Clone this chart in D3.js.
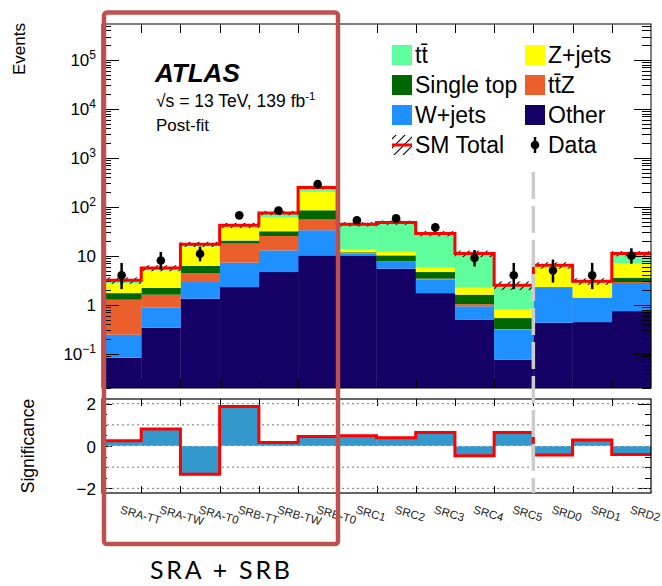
<!DOCTYPE html>
<html>
<head>
<meta charset="utf-8">
<script src="https://cdn.jsdelivr.net/npm/d3@7"></script>
<style>
  body { margin: 0; background: #fff; }
  svg { display: block; font-family: "Liberation Sans", Arial, sans-serif; }
</style>
</head>
<body>
<div id="chart"></div>
<script>
// Signal regions (x categories)
const regions = ['SRA-TT', 'SRA-TW', 'SRA-T0', 'SRB-TT', 'SRB-TW', 'SRB-T0',
  'SRC1', 'SRC2', 'SRC3', 'SRC4', 'SRC5', 'SRD0', 'SRD1', 'SRD2'];

// Post-fit background yields per region (stacked bottom -> top)
const other = [0.083, 0.34, 1.33, 2.3, 4.66, 10.2, 9.9, 5.47, 1.73, 0.50, 0.076, 0.43, 0.443, 0.743];
const wjets = [0.162, 0.533, 1.58, 4.96, 8.24, 23.0, 1.2, 2.0, 1.53, 0.43, 0.238, 1.87, 0.957, 2.04];
const ttz = [1.025, 0.737, 1.54, 10.5, 12.5, 21.8, 0.3, 0.36, 0.16, 0.10, 0.006, 0.0, 0.0, 0.13];
const singleTop = [0.46, 0.59, 1.74, 2.7, 6.3, 30, 0.4, 2.37, 1.24, 0.58, 0.215, 0.0, 0.0, 0.67];
const zjets = [1.05, 2.85, 9.4, 17.2, 28.7, 117, 1.6, 1.8, 1.08, 0.63, 0.27, 3.8, 1.38, 3.55];
const ttbar = [0.38, 0.58, 1.6, 4.3, 14.6, 46, 30.6, 35.7, 22.7, 8.86, 1.69, 0.3, 0.23, 3.97];

// relative uncertainty on SM total
const smRelErr = [0.15, 0.14, 0.12, 0.12, 0.1, 0.08, 0.1, 0.1, 0.12, 0.15, 0.2, 0.15, 0.15, 0.12];

// Observed data and its error bars
const observed = [4, 8, 11, 67, 84, 290, 53, 58, 38, 9, 4, 5, 4, 10];
const obsErrUp = [3.16, 3.98, 4.41, 9.2, 10.2, 18.0, 8.3, 8.7, 7.2, 4.11, 3.16, 3.38, 3.16, 4.27];
const obsErrDown = [1.91, 2.76, 3.28, 8.2, 9.2, 17.0, 7.3, 7.6, 6.1, 2.94, 1.91, 2.16, 1.91, 3.11];

// Significance per region (lower panel)
const significance = [0.25, 0.80, -1.34, 1.87, 0.17, 0.45, 0.49, 0.39, 0.64, -0.46, 0.64, -0.43, 0.28, -0.40];

const yTickLabels = [
  { v: 1e5, base: '10', sup: '5' },
  { v: 1e4, base: '10', sup: '4' },
  { v: 1e3, base: '10', sup: '3' },
  { v: 1e2, base: '10', sup: '2' },
  { v: 10, base: '10', sup: '' },
  { v: 1, base: '1', sup: '' },
  { v: 0.1, base: '10', sup: '\u22121' }
];
const sigTickLabels = [2, 0, -2];

const samples = [
  { key: 'other', name: 'Other', color: '#150066', values: other },
  { key: 'wjets', name: 'W+jets', color: '#1e90ff', values: wjets },
  { key: 'ttz', name: 't\u0074\u0304Z', color: '#ea5f2b', values: ttz },
  { key: 'singletop', name: 'Single top', color: '#006600', values: singleTop },
  { key: 'zjets', name: 'Z+jets', color: '#ffff00', values: zjets },
  { key: 'ttbar', name: 't\u0074\u0304', color: '#60fd9c', values: ttbar }
];

const W = 662, H = 586;
const svg = d3.select('#chart').append('svg')
  .attr('width', W).attr('height', H);

const defs = svg.append('defs');
const pat = defs.append('pattern')
  .attr('id', 'hatch')
  .attr('patternUnits', 'userSpaceOnUse')
  .attr('width', 9).attr('height', 9);
pat.append('path')
  .attr('d', 'M0,9 L9,0 M-2,2 L2,-2 M7,11 L11,7')
  .attr('stroke', '#000').attr('stroke-width', 1.1);

// panel geometry
const left = 102, right = 651;
const mainTop = 24, mainBottom = 388;
const lowTop = 399, lowBottom = 493;

const x = d3.scaleLinear().domain([0, regions.length]).range([left, right]);
const y = d3.scaleLog().domain([0.02, 5.4e5]).range([mainBottom, mainTop]).clamp(true);
const ys = d3.scaleLinear().domain([-2.22, 2.22]).range([lowBottom, lowTop]);

// stack the backgrounds
const table = regions.map((r, i) => {
  const row = { region: r, i: i };
  samples.forEach(s => { row[s.key] = s.values[i]; });
  return row;
});
const stack = d3.stack().keys(samples.map(s => s.key))(table);
const totals = table.map(d => d3.sum(samples, s => d[s.key]));

const main = svg.append('g');

// stacked bars
stack.forEach((layer, li) => {
  main.append('g').selectAll('rect')
    .data(layer)
    .enter()
    .append('rect')
    .attr('x', (d, i) => x(i))
    .attr('width', (d, i) => x(i + 1) - x(i) + 0.3)
    .attr('y', d => y(Math.max(d[1], 0.02)))
    .attr('height', d => Math.max(0, y(Math.max(d[0], 0.02)) - y(Math.max(d[1], 0.02))))
    .attr('fill', samples[li].color);
});

// SM uncertainty hatch band
main.append('g').selectAll('rect')
  .data(totals)
  .enter()
  .append('rect')
  .attr('x', (d, i) => x(i))
  .attr('width', (d, i) => x(i + 1) - x(i))
  .attr('y', (d, i) => y(d * (1 + smRelErr[i])))
  .attr('height', (d, i) => y(d * (1 - smRelErr[i])) - y(d * (1 + smRelErr[i])))
  .attr('fill', 'url(#hatch)');

// SM total step line
const stepPts = [];
totals.forEach((t, i) => { stepPts.push([x(i), y(t)]); stepPts.push([x(i + 1), y(t)]); });
main.append('path')
  .attr('d', d3.line()(stepPts))
  .attr('fill', 'none')
  .attr('stroke', '#ff0000')
  .attr('stroke-width', 3);

// data points
const dataG = main.append('g');
observed.forEach((n, i) => {
  const cx = (x(i) + x(i + 1)) / 2;
  dataG.append('line')
    .attr('x1', cx).attr('x2', cx)
    .attr('y1', y(n + obsErrUp[i])).attr('y2', y(n - obsErrDown[i]))
    .attr('stroke', '#000').attr('stroke-width', 2.5);
  dataG.append('circle')
    .attr('cx', cx).attr('cy', y(n)).attr('r', 4.3)
    .attr('fill', '#000');
});

// main frame
main.append('rect')
  .attr('x', left).attr('y', mainTop)
  .attr('width', right - left).attr('height', mainBottom - mainTop)
  .attr('fill', 'none').attr('stroke', '#000').attr('stroke-width', 1);

// log ticks left and right
const ticksG = svg.append('g').attr('stroke', '#000').attr('stroke-width', 1);
const logTicks = [];
for (let e = -2; e <= 5; e++) {
  for (let k = 1; k <= 9; k++) {
    const v = k * Math.pow(10, e);
    if (v >= 0.02 && v <= 5.4e5) logTicks.push({ v: v, major: k === 1 });
  }
}
logTicks.forEach(t => {
  const len = t.major ? 17 : 9;
  const yy = Math.round(y(t.v)) + 0.5;
  ticksG.append('line').attr('x1', left).attr('x2', left + len).attr('y1', yy).attr('y2', yy);
  ticksG.append('line').attr('x1', right).attr('x2', right - len).attr('y1', yy).attr('y2', yy);
});
// bin edge ticks top/bottom of both panels
for (let i = 1; i < regions.length; i++) {
  const xx = Math.round(x(i)) + 0.5;
  ticksG.append('line').attr('x1', xx).attr('x2', xx).attr('y1', mainTop).attr('y2', mainTop + 9);
  ticksG.append('line').attr('x1', xx).attr('x2', xx).attr('y1', mainBottom).attr('y2', mainBottom - 9);
  ticksG.append('line').attr('x1', xx).attr('x2', xx).attr('y1', lowTop).attr('y2', lowTop + 7);
  ticksG.append('line').attr('x1', xx).attr('x2', xx).attr('y1', lowBottom).attr('y2', lowBottom - 7);
}

// y tick labels (main)
yTickLabels.forEach(t => {
  const txt = svg.append('text')
    .attr('x', 96).attr('y', y(t.v) + 6)
    .attr('text-anchor', 'end')
    .attr('font-size', 17);
  txt.append('tspan').text(t.base);
  if (t.sup) {
    txt.append('tspan').attr('dy', -7).attr('font-size', 12).text(t.sup);
  }
});

// Events label
svg.append('text')
  .attr('transform', 'translate(25,23) rotate(-90)')
  .attr('text-anchor', 'end')
  .attr('font-size', 17)
  .text('Events');

// ATLAS labels
svg.append('text').attr('x', 155).attr('y', 82)
  .attr('font-size', 26).attr('font-weight', 'bold').attr('font-style', 'italic')
  .text('ATLAS');
svg.append('text').attr('x', 156).attr('y', 107).attr('font-size', 17.5)
  .html('\u221As = 13 TeV, 139 fb<tspan dy="-7" font-size="11.5">-1</tspan>');
svg.append('text').attr('x', 156).attr('y', 131).attr('font-size', 17)
  .text('Post-fit');

// legend
const legendItems = [
  { s: samples[5], col: 0, row: 0 },
  { s: samples[4], col: 1, row: 0 },
  { s: samples[3], col: 0, row: 1 },
  { s: samples[2], col: 1, row: 1 },
  { s: samples[1], col: 0, row: 2 },
  { s: samples[0], col: 1, row: 2 }
];
const legX = [392, 525], legY0 = 55, legDy = 30;
const leg = svg.append('g').attr('font-size', 23);
legendItems.forEach(it => {
  const lx = legX[it.col], ly = legY0 + it.row * legDy;
  leg.append('rect').attr('x', lx).attr('y', ly - 10).attr('width', 20).attr('height', 20)
    .attr('fill', it.s.color);
  leg.append('text').attr('x', lx + 23).attr('y', ly + 8).text(it.s.name);
});
// SM total entry
const smY = legY0 + 3 * legDy;
leg.append('rect').attr('x', legX[0]).attr('y', smY - 10).attr('width', 20).attr('height', 20)
  .attr('fill', 'url(#hatch)');
leg.append('line').attr('x1', legX[0]).attr('x2', legX[0] + 20).attr('y1', smY).attr('y2', smY)
  .attr('stroke', '#ff0000').attr('stroke-width', 3);
leg.append('text').attr('x', legX[0] + 23).attr('y', smY + 8).text('SM Total');
// data entry
leg.append('line').attr('x1', legX[1] + 10).attr('x2', legX[1] + 10).attr('y1', smY - 8).attr('y2', smY + 8)
  .attr('stroke', '#000').attr('stroke-width', 2.5);
leg.append('circle').attr('cx', legX[1] + 10).attr('cy', smY).attr('r', 4.3).attr('fill', '#000');
leg.append('text').attr('x', legX[1] + 23).attr('y', smY + 8).text('Data');

// ---- lower panel ----
const low = svg.append('g');
// dotted grid
[-2, -1, 1, 2].forEach(v => {
  low.append('line').attr('x1', left).attr('x2', right)
    .attr('y1', ys(v)).attr('y2', ys(v))
    .attr('stroke', '#777').attr('stroke-width', 1).attr('stroke-dasharray', '2,3');
});
// significance bars
low.append('g').selectAll('rect')
  .data(significance)
  .enter()
  .append('rect')
  .attr('x', (d, i) => x(i))
  .attr('width', (d, i) => x(i + 1) - x(i) + 0.3)
  .attr('y', d => Math.min(ys(d), ys(0)))
  .attr('height', d => Math.abs(ys(d) - ys(0)))
  .attr('fill', '#3399cc');
// zero line
low.append('line').attr('x1', left).attr('x2', right)
  .attr('y1', ys(0)).attr('y2', ys(0))
  .attr('stroke', '#d8d8d8').attr('stroke-width', 1).attr('stroke-dasharray', '3,3');
// red step line
const sigPts = [];
significance.forEach((s, i) => { sigPts.push([x(i), ys(s)]); sigPts.push([x(i + 1), ys(s)]); });
low.append('path')
  .attr('d', d3.line()(sigPts))
  .attr('fill', 'none').attr('stroke', '#ff0000').attr('stroke-width', 3);
// frame
low.append('rect')
  .attr('x', left).attr('y', lowTop)
  .attr('width', right - left).attr('height', lowBottom - lowTop)
  .attr('fill', 'none').attr('stroke', '#000').attr('stroke-width', 1.2);
// y ticks lower panel
d3.range(-2, 2.01, 0.5).forEach(v => {
  const major = Math.abs(v % 2) < 1e-6;
  const yy = Math.round(ys(v)) + 0.5;
  ticksG.append('line').attr('x1', left).attr('x2', left + (major ? 10 : 5)).attr('y1', yy).attr('y2', yy);
  ticksG.append('line').attr('x1', right).attr('x2', right - (major ? 13 : 6)).attr('y1', yy).attr('y2', yy);
});
sigTickLabels.forEach(v => {
  svg.append('text')
    .attr('x', 96).attr('y', ys(v) + 6.5)
    .attr('text-anchor', 'end').attr('font-size', 17)
    .text(v < 0 ? '\u2212' + Math.abs(v) : v);
});
svg.append('text')
  .attr('transform', `translate(34,${(lowTop + lowBottom) / 2}) rotate(-90)`)
  .attr('text-anchor', 'middle')
  .attr('font-size', 17.5)
  .text('Significance');

// x labels
regions.forEach((r, i) => {
  const cx = (x(i) + x(i + 1)) / 2 - 2;
  svg.append('text')
    .attr('transform', `translate(${cx},513) rotate(16)`)
    .attr('font-size', 11.5)
    .attr('fill', '#222')
    .text(r);
});

// grey dashed separator between SRC and SRD
svg.append('line')
  .attr('x1', x(11)).attr('x2', x(11))
  .attr('y1', 172).attr('y2', lowBottom)
  .attr('stroke', '#cccccc').attr('stroke-width', 3.5)
  .attr('stroke-dasharray', '27,7');

// highlight box around SRA + SRB
svg.append('rect')
  .attr('x', 104).attr('y', 12.5)
  .attr('width', 234).attr('height', 531.5)
  .attr('rx', 3)
  .attr('fill', 'none')
  .attr('stroke', '#c0504d')
  .attr('stroke-width', 4.5);

svg.append('text')
  .attr('x', 220).attr('y', 579)
  .attr('text-anchor', 'middle')
  .attr('font-family', 'Lato, "Open Sans", sans-serif')
  .attr('font-size', 25)
  .attr('textLength', 140)
  .attr('lengthAdjust', 'spacing')
  .text('SRA + SRB');
</script>
</body>
</html>
